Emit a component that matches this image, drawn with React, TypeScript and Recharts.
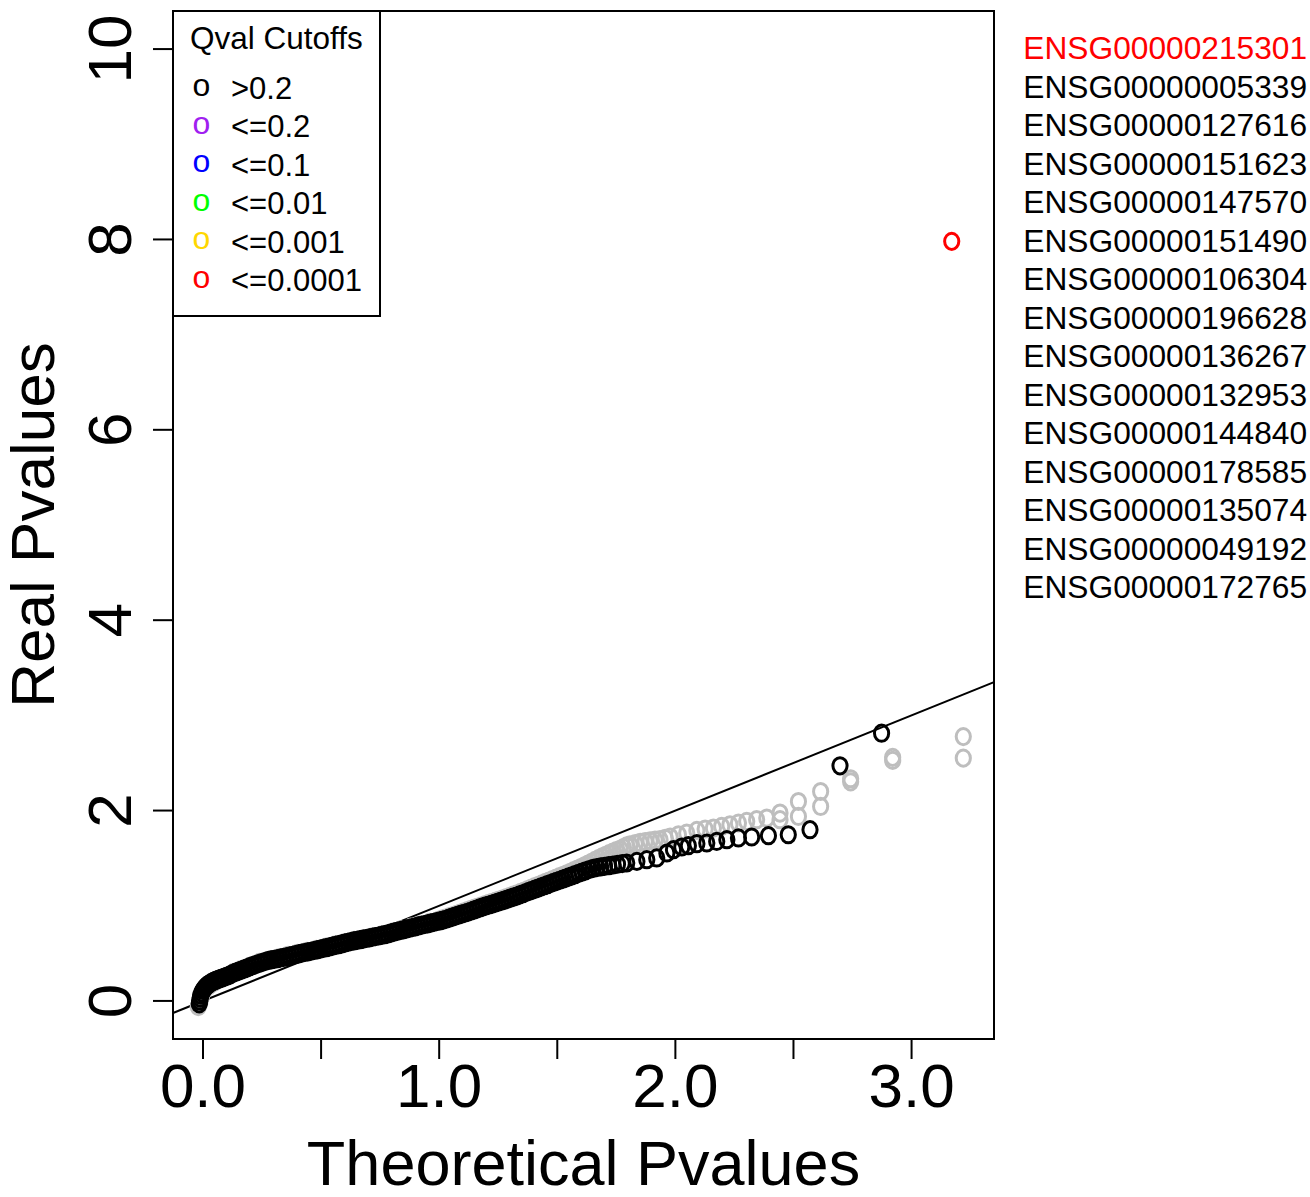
import React from 'react'
import { ReferenceArea, ReferenceLine, Scatter, ScatterChart, XAxis, YAxis } from 'recharts'

// plot box in page pixels
const LEFT = 173
const TOP = 11
const RIGHT = 994
const BOTTOM = 1039
const W = 1310
const H = 1197
const FONT = "'Liberation Sans', Arial, Helvetica, sans-serif"

const xDomain: [number, number] = [-0.127, 3.349]
const yDomain: [number, number] = [-0.4, 10.4]
const xTicks = [0, 0.5, 1, 1.5, 2, 2.5, 3]
const xTickLabels = ['0.0', '', '1.0', '', '2.0', '', '3.0']
const yTicks = [0, 2, 4, 6, 8, 10]

const xTitle = 'Theoretical Pvalues'
const yTitle = 'Real Pvalues'

const legendTitle = 'Qval Cutoffs'
const cutoffLabels = ['>0.2', '<=0.2', '<=0.1', '<=0.01', '<=0.001', '<=0.0001']
const cutoffColors = ['#000000', '#a020f0', '#0000ff', '#00ff00', '#ffd700', '#ff0000']

const topGenes = [
  'ENSG00000215301',
  'ENSG00000005339',
  'ENSG00000127616',
  'ENSG00000151623',
  'ENSG00000147570',
  'ENSG00000151490',
  'ENSG00000106304',
  'ENSG00000196628',
  'ENSG00000136267',
  'ENSG00000132953',
  'ENSG00000144840',
  'ENSG00000178585',
  'ENSG00000135074',
  'ENSG00000049192',
  'ENSG00000172765',
]
const topGeneColors = ['#ff0000', '#000000', '#000000', '#000000', '#000000', '#000000', '#000000',
  '#000000', '#000000', '#000000', '#000000', '#000000', '#000000', '#000000', '#000000']

// permuted / null p-values (grey), [theoretical, real]
const nullPoints: [number, number][] = [
  [-0.02, -0.06], [-0.012, 0.0], [-0.006, 0.05], [0.002, 0.1], [0.015, 0.14], [0.03, 0.17],
  [0.05, 0.2], [0.075, 0.235], [0.1, 0.26], [0.13, 0.3], [0.16, 0.33], [0.2, 0.365],
  [0.24, 0.405], [0.28, 0.43], [0.32, 0.452], [0.36, 0.478], [0.4, 0.5], [0.44, 0.52],
  [0.48, 0.542], [0.52, 0.566], [0.56, 0.59], [0.6, 0.614], [0.64, 0.636], [0.68, 0.656],
  [0.72, 0.676], [0.76, 0.697], [0.8, 0.722], [0.84, 0.75], [0.88, 0.775], [0.92, 0.8],
  [0.96, 0.825], [1.0, 0.85], [1.015, 0.862], [1.03, 0.874], [1.045, 0.885], [1.06, 0.897],
  [1.075, 0.91], [1.09, 0.923], [1.105, 0.936], [1.12, 0.948], [1.135, 0.961], [1.15, 0.974],
  [1.165, 0.987], [1.18, 1.0], [1.195, 1.012], [1.21, 1.024], [1.225, 1.036], [1.24, 1.048],
  [1.255, 1.06], [1.27, 1.073], [1.285, 1.086], [1.3, 1.099], [1.315, 1.112], [1.33, 1.126],
  [1.345, 1.14], [1.36, 1.155], [1.375, 1.17], [1.39, 1.185], [1.405, 1.2], [1.42, 1.215],
  [1.435, 1.23], [1.45, 1.245], [1.465, 1.26], [1.48, 1.275], [1.495, 1.29], [1.51, 1.305],
  [1.525, 1.32], [1.54, 1.336], [1.555, 1.352], [1.57, 1.368], [1.585, 1.385], [1.6, 1.402],
  [1.615, 1.42], [1.63, 1.438], [1.645, 1.457], [1.66, 1.476], [1.675, 1.495], [1.69, 1.513],
  [1.705, 1.53], [1.72, 1.547], [1.735, 1.563], [1.75, 1.578], [1.766, 1.593], [1.78, 1.612],
  [1.794, 1.628], [1.808, 1.641], [1.83, 1.652], [1.851, 1.665], [1.872, 1.675], [1.893, 1.683],
  [1.914, 1.689], [1.935, 1.694], [1.957, 1.708], [1.978, 1.722], [2.013, 1.746], [2.048, 1.764],
  [2.091, 1.791], [2.126, 1.806], [2.161, 1.816], [2.196, 1.833], [2.231, 1.851], [2.267, 1.869],
  [2.302, 1.886], [2.344, 1.904], [2.387, 1.921], [2.443, 1.974], [2.443, 1.904], [2.521, 2.095],
  [2.521, 1.938], [2.615, 2.2], [2.615, 2.043], [2.742, 2.334], [2.742, 2.302], [2.92, 2.559],
  [2.92, 2.528], [3.219, 2.777], [3.219, 2.551],
]

// observed p-values, q > 0.2 (black)
const observedPoints: [number, number][] = [
  [-0.016, -0.03], [-0.014, 0.0], [-0.012, 0.03], [-0.009, 0.06], [-0.005, 0.085], [0.0, 0.11],
  [0.006, 0.13], [0.012, 0.15], [0.019, 0.165], [0.027, 0.18], [0.036, 0.195], [0.046, 0.207],
  [0.056, 0.218], [0.067, 0.228], [0.079, 0.239], [0.091, 0.25], [0.103, 0.262], [0.115, 0.274],
  [0.127, 0.29], [0.139, 0.302], [0.151, 0.313], [0.163, 0.324], [0.175, 0.336], [0.187, 0.348],
  [0.199, 0.36], [0.211, 0.372], [0.223, 0.382], [0.236, 0.392], [0.249, 0.403], [0.262, 0.414],
  [0.275, 0.424], [0.288, 0.431], [0.301, 0.437], [0.314, 0.443], [0.327, 0.451], [0.34, 0.457],
  [0.353, 0.463], [0.366, 0.472], [0.379, 0.48], [0.392, 0.487], [0.405, 0.494], [0.418, 0.502],
  [0.431, 0.509], [0.444, 0.516], [0.457, 0.522], [0.47, 0.53], [0.483, 0.537], [0.496, 0.545],
  [0.509, 0.552], [0.522, 0.559], [0.535, 0.567], [0.548, 0.575], [0.561, 0.583], [0.574, 0.591],
  [0.587, 0.599], [0.6, 0.607], [0.613, 0.615], [0.626, 0.623], [0.639, 0.63], [0.652, 0.637],
  [0.665, 0.643], [0.678, 0.65], [0.691, 0.656], [0.704, 0.663], [0.717, 0.669], [0.73, 0.676],
  [0.743, 0.682], [0.756, 0.689], [0.769, 0.696], [0.782, 0.704], [0.795, 0.713], [0.808, 0.722],
  [0.821, 0.73], [0.834, 0.739], [0.847, 0.747], [0.86, 0.755], [0.873, 0.763], [0.886, 0.771],
  [0.899, 0.779], [0.912, 0.788], [0.925, 0.795], [0.938, 0.803], [0.951, 0.81], [0.964, 0.818],
  [0.977, 0.825], [0.99, 0.833], [1.003, 0.84], [1.016, 0.849], [1.029, 0.858], [1.042, 0.869],
  [1.055, 0.88], [1.068, 0.891], [1.081, 0.901], [1.094, 0.911], [1.107, 0.921], [1.12, 0.931],
  [1.133, 0.942], [1.146, 0.953], [1.159, 0.965], [1.172, 0.977], [1.185, 0.989], [1.198, 0.999],
  [1.211, 1.008], [1.224, 1.018], [1.237, 1.028], [1.25, 1.038], [1.263, 1.048], [1.276, 1.059],
  [1.289, 1.07], [1.302, 1.081], [1.315, 1.091], [1.328, 1.102], [1.341, 1.114], [1.354, 1.126],
  [1.367, 1.138], [1.38, 1.15], [1.393, 1.162], [1.406, 1.174], [1.419, 1.186], [1.432, 1.198],
  [1.445, 1.21], [1.458, 1.221], [1.471, 1.233], [1.484, 1.245], [1.497, 1.256], [1.51, 1.268],
  [1.523, 1.279], [1.536, 1.291], [1.549, 1.303], [1.562, 1.314], [1.575, 1.326], [1.59, 1.34],
  [1.605, 1.353], [1.62, 1.367], [1.636, 1.381], [1.652, 1.392], [1.668, 1.401], [1.684, 1.408],
  [1.7, 1.414], [1.718, 1.421], [1.736, 1.428], [1.755, 1.436], [1.775, 1.443], [1.794, 1.449],
  [1.837, 1.466], [1.879, 1.484], [1.921, 1.502], [1.964, 1.554], [1.992, 1.589], [2.027, 1.617],
  [2.055, 1.631], [2.091, 1.652], [2.133, 1.659], [2.175, 1.676], [2.218, 1.694], [2.267, 1.712],
  [2.323, 1.722], [2.394, 1.736], [2.478, 1.746], [2.57, 1.799], [2.697, 2.47], [2.873, 2.813],
]

// observed, q <= 0.0001 (red)
const significantPoints: [number, number][] = [[3.17, 7.98]]

const toRows = (pts: [number, number][]) => pts.map(([x, y]) => ({ x, y }))

const ring = (color: string) => (props: any) => {
  const { cx, cy } = props
  if (cx == null || cy == null) return <g />
  return <ellipse cx={cx} cy={cy} rx={7.1} ry={8.1} fill="none" stroke={color} strokeWidth={3} />
}

const XTick = (props: any) => {
  const { x, index } = props
  return (
    <text x={x} y={BOTTOM + 68} textAnchor="middle" fontSize={62} fontFamily={FONT} fill="#000">
      {xTickLabels[index] ?? ''}
    </text>
  )
}

const YTick = (props: any) => {
  const { y, payload } = props
  const bx = LEFT - 42
  return (
    <text x={bx} y={y} transform={`rotate(-90 ${bx} ${y})`} textAnchor="middle" fontSize={62}
      fontFamily={FONT} fill="#000">
      {String(payload.value)}
    </text>
  )
}

export default function App() {
  const midY = (TOP + BOTTOM) / 2
  return (
    <div style={{ position: 'absolute', left: 0, top: 0, width: W, height: H, background: '#fff' }}>
      <ScatterChart
        width={W}
        height={H}
        margin={{ top: TOP, right: W - RIGHT, bottom: H - BOTTOM - 60, left: LEFT - 60 }}
      >
        <XAxis
          type="number"
          dataKey="x"
          domain={xDomain}
          ticks={xTicks}
          interval={0}
          allowDataOverflow
          height={60}
          tickSize={20}
          axisLine={false}
          tickLine={{ stroke: '#000', strokeWidth: 2 }}
          tick={<XTick />}
        />
        <YAxis
          type="number"
          dataKey="y"
          domain={yDomain}
          ticks={yTicks}
          interval={0}
          allowDataOverflow
          width={60}
          tickSize={20}
          axisLine={false}
          tickLine={{ stroke: '#000', strokeWidth: 2 }}
          tick={<YTick />}
        />
        <Scatter data={toRows(nullPoints)} shape={ring('#bebebe')} isAnimationActive={false} />
        <Scatter data={toRows(observedPoints)} shape={ring('#000000')} isAnimationActive={false} />
        <Scatter data={toRows(significantPoints)} shape={ring('#ff0000')} isAnimationActive={false} />
        <ReferenceLine
          segment={[{ x: xDomain[0], y: xDomain[0] }, { x: xDomain[1], y: xDomain[1] }]}
          stroke="#000"
          strokeWidth={2}
          ifOverflow="visible"
        />
        <ReferenceArea
          x1={xDomain[0]}
          x2={xDomain[1]}
          y1={yDomain[0]}
          y2={yDomain[1]}
          fill="none"
          fillOpacity={0}
          stroke="#000"
          strokeWidth={2}
          ifOverflow="visible"
        />
      </ScatterChart>
      <svg
        width={W}
        height={H}
        style={{ position: 'absolute', left: 0, top: 0, pointerEvents: 'none' }}
        fontFamily={FONT}
      >
        <text x={(LEFT + RIGHT) / 2} y={1185} textAnchor="middle" fontSize={63} fill="#000">
          {xTitle}
        </text>
        <text x={54} y={midY} transform={`rotate(-90 54 ${midY})`}
          textAnchor="middle" fontSize={62} fill="#000">
          {yTitle}
        </text>
        {/* legend */}
        <rect x={LEFT} y={TOP} width={207} height={305} fill="#fff" stroke="#000" strokeWidth={2} />
        <text x={190} y={48.5} fontSize={31.5} fill="#000">{legendTitle}</text>
        {cutoffLabels.map((lab, i) => (
          <g key={lab}>
            <text x={201.5} y={95.5 + i * 38.4} textAnchor="middle" fontSize={32} fill={cutoffColors[i]}>o</text>
            <text x={231} y={99 + i * 38.4} fontSize={31} fill="#000">{lab}</text>
          </g>
        ))}
        {topGenes.map((g, i) => (
          <text key={g} x={1307} y={59 + i * 38.5} textAnchor="end" fontSize={31.7} fill={topGeneColors[i]}>
            {g}
          </text>
        ))}
      </svg>
    </div>
  )
}
